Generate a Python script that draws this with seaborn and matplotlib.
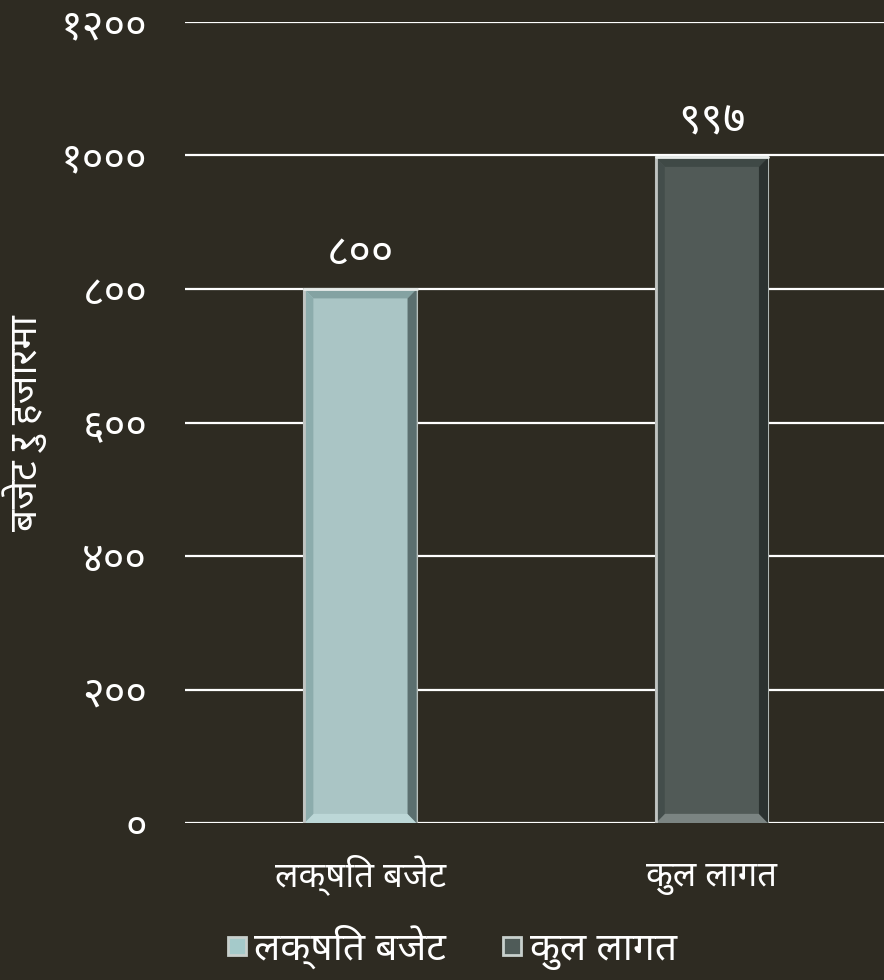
import matplotlib
matplotlib.use('Agg')
import matplotlib.pyplot as plt
from matplotlib.patches import Polygon
from matplotlib.lines import Line2D
import matplotlib.colors as mcolors
import numpy as np
import seaborn as sns
import pandas as pd

categories = ['लक्षित बजेट', 'कुल लागत']
values = [800, 997]
value_labels = ['८००', '९९७']
yticks = [0, 200, 400, 600, 800, 1000, 1200]
ytick_labels = ['०', '२००', '४००', '६००', '८००', '१०००', '१२००']
ylabel = 'बजेट रु हजारमा'

bg = '#2e2b22'
colors = ['#a5caca', '#4f5b58']

sns.set_theme(style='white')
plt.rcParams['font.family'] = ['Noto Sans Devanagari', 'Lohit Devanagari', 'FreeSans',
                               'Noto Sans', 'DejaVu Sans']


def shade(c, f):
    # f > 0 lighten, f < 0 darken
    rgb = np.array(mcolors.to_rgb(c))
    if f > 0:
        return tuple(rgb + (1 - rgb) * f)
    return tuple(rgb * (1 + f))


df = pd.DataFrame({'cat': categories, 'val': values})

fig = plt.figure(figsize=(8.84, 9.8), dpi=100, facecolor=bg)
ax = fig.add_axes([0.209, 0.160, 0.795, 0.8176], facecolor=bg)

for y in yticks:
    ax.axhline(y, color='white', lw=1.6, zorder=0)

sns.barplot(data=df, x='cat', y='val', hue='cat', palette=colors, width=0.32,
            legend=False, ax=ax, zorder=2, edgecolor='#b8c0bd', linewidth=1.5)

# bevelled look on each bar
dx, dy = 0.026, 14
for p, c in zip(list(ax.patches), colors):
    x0, x1 = p.get_x(), p.get_x() + p.get_width()
    y0, y1 = 0, p.get_height()
    sides = {
        'top': ([(x0, y1), (x1, y1), (x1 - dx, y1 - dy), (x0 + dx, y1 - dy)], -0.2),
        'bottom': ([(x0, y0), (x1, y0), (x1 - dx, y0 + dy), (x0 + dx, y0 + dy)], 0.25),
        'left': ([(x0, y0), (x0, y1), (x0 + dx, y1 - dy), (x0 + dx, y0 + dy)], -0.15),
        'right': ([(x1, y0), (x1, y1), (x1 - dx, y1 - dy), (x1 - dx, y0 + dy)], -0.45),
    }
    for pts, f in sides.values():
        ax.add_patch(Polygon(pts, closed=True, facecolor=shade(c, f), edgecolor='none', zorder=3))
    ax.plot([x0, x0], [y0, y1], color='#c0c4c2', lw=2, zorder=4)
    ax.plot([x0, x1], [y1, y1], color='#e8ecea', lw=2, zorder=4)

for p, lab in zip(ax.patches, value_labels):
    ax.text(p.get_x() + p.get_width() / 2, p.get_height() + 20, lab, ha='center',
            va='bottom', color='white', fontsize=31)

ax.set_xlim(-0.5, 1.5)
ax.set_ylim(0, 1200)
ax.set_yticks(yticks)
ax.set_yticklabels(ytick_labels, color='white', fontsize=30)
ax.tick_params(axis='x', colors='white', labelsize=25, length=0, pad=45)
for t in ax.get_xticklabels():
    t.set_va('baseline')
ax.tick_params(axis='y', length=0, pad=27)
ax.set_xlabel('')
ax.set_ylabel(ylabel, color='white', fontsize=28, labelpad=10)
for s in ax.spines.values():
    s.set_visible(False)

handles = [Line2D([], [], ls='none', marker='s', markersize=13, markerfacecolor=c,
                  markeredgecolor='#c8d0cd', markeredgewidth=2) for c in colors]
fig.legend(handles, categories, loc='lower center', bbox_to_anchor=(0.51, -0.025), ncol=2,
           frameon=False, fontsize=28, labelcolor='white', handlelength=0.6,
           handletextpad=0.15, columnspacing=1.4)

fig.savefig('out.png', dpi=100, facecolor=bg)
